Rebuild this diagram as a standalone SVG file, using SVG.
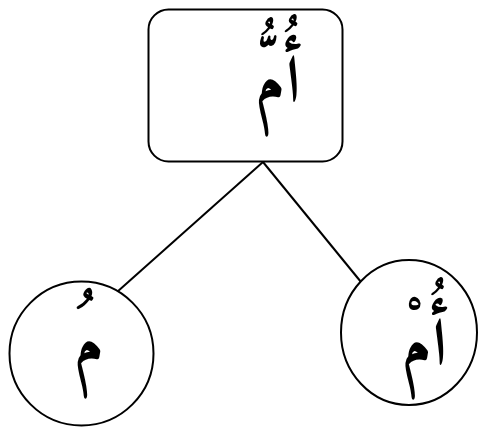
<svg xmlns="http://www.w3.org/2000/svg" width="480" height="427" viewBox="0 0 480 427">
  <style>
    .shape { fill: #ffffff; stroke: #000000; stroke-width: 2; }
    .edge { stroke: #000000; stroke-width: 2; fill: none; }
    .label { font-family: "Amiri", "DejaVu Sans", sans-serif; font-weight: bold; font-size: 66px; fill: #000000; text-anchor: middle; }
  </style>
  <rect width="480" height="427" fill="#ffffff"/>
  <g id="connectors">
    <line class="edge" x1="263" y1="162" x2="117" y2="292"/>
    <line class="edge" x1="263" y1="162" x2="361" y2="282"/>
  </g>
  <g id="root">
    <rect class="shape" x="148.5" y="9.5" width="194" height="152" rx="20" ry="20"/>
    <text class="label" x="278" y="102" direction="rtl">أُمُّ</text>
  </g>
  <g id="left">
    <circle class="shape" cx="81.5" cy="353.5" r="72"/>
    <text class="label" x="89" y="364" direction="rtl">مُ</text>
  </g>
  <g id="right">
    <ellipse class="shape" cx="409" cy="332.5" rx="68" ry="72.5"/>
    <text class="label" x="424.5" y="365" direction="rtl">أُمْ</text>
  </g>
</svg>
